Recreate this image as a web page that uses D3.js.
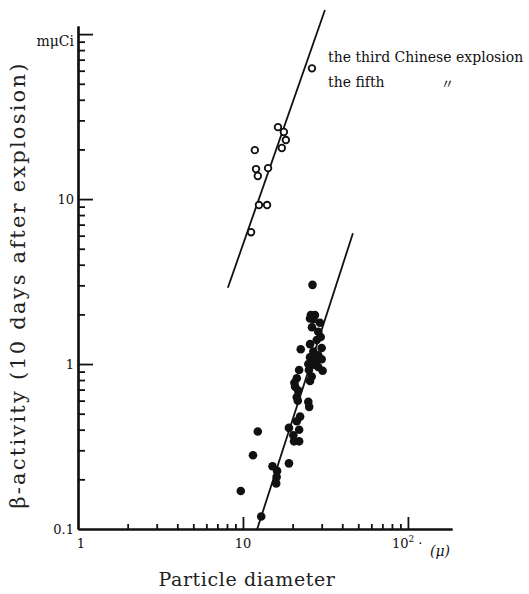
<!DOCTYPE html>
<html>
<head>
<meta charset="utf-8">
<script src="https://cdn.jsdelivr.net/npm/d3@7/dist/d3.min.js"></script>
<style>
  body { margin: 0; background: #fff; }
  svg text { font-family: "DejaVu Serif", "Liberation Serif", serif; fill: #111; }
</style>
</head>
<body>
<div id="chart"></div>
<script>
// third Chinese explosion (open circles)
const thirdX = [26.2, 16.3, 17.7, 18.2, 17.2, 11.8, 12.0, 12.3, 14.2, 12.5, 14.0, 11.2];
const thirdY = [62, 27.3, 25.5, 22.8, 20.4, 19.8, 15.2, 13.8, 15.4, 9.2, 9.2, 6.3];
// fifth explosion (filled dots)
const fifthX = [26.4, 25.8, 27.3, 25.5, 26.7, 29.3, 26.2, 28.6, 29.6, 28.0, 25.5, 22.4, 30.0, 26.7, 28.6,
  25.5, 30.0, 27.7, 24.9, 26.7, 28.6, 21.9, 25.1, 30.4, 21.2, 26.1, 20.5, 25.5, 20.7, 21.6,
  21.2, 21.5, 24.9, 25.2, 22.2, 21.2, 19.0, 21.9, 20.2, 21.9, 20.4, 12.3, 11.5, 19.0, 15.1,
  16.1, 16.0, 15.9, 9.7, 12.9];
const fifthY = [3.02, 1.98, 1.98, 1.89, 1.87, 1.78, 1.67, 1.57, 1.46, 1.40, 1.32, 1.23, 1.25, 1.19, 1.13,
  1.10, 1.07, 1.05, 1.00, 0.99, 0.96, 0.92, 0.92, 0.91, 0.82, 0.84, 0.77, 0.79, 0.73, 0.69,
  0.63, 0.60, 0.59, 0.55, 0.48, 0.45, 0.41, 0.40, 0.37, 0.34, 0.34, 0.39, 0.28, 0.25, 0.24,
  0.225, 0.207, 0.189, 0.170, 0.119];
// fitted lines, [start, end]
const thirdLineX = [8.1, 31.4];
const thirdLineY = [2.9, 140];
const fifthLineX = [12.2, 46.4];
const fifthLineY = [0.1, 6.2];

const xMajor = [10, 100];
const xMinor = [2, 3, 4, 5, 6, 7, 8, 9, 20, 30, 40, 50, 60, 70, 80, 90];
const yMajor = [1, 10, 100];
const yMinor = [0.2, 0.3, 0.4, 0.5, 0.6, 0.7, 0.8, 0.9, 2, 3, 4, 5, 6, 7, 8, 9,
  20, 30, 40, 50, 60, 70, 80, 90];
const yLabels = [[0.1, "0.1"], [1, "1"], [10, "10"], [100, "mμCi"]];
const xLabels = [[1, "1"], [10, "10"]];

const width = 529, height = 594;
const svg = d3.select("#chart").append("svg")
  .attr("width", width).attr("height", height);

const x = d3.scaleLog().domain([1, 185]).range([78, 452]);
const y = d3.scaleLog().domain([0.1, 112]).range([529, 26]);

const styleAxis = g => {
  g.select(".domain").attr("stroke", "#111").attr("stroke-width", 2.2);
  g.selectAll(".tick line").attr("stroke", "#111").attr("stroke-width", 1.8);
};

// x axis
svg.append("g").attr("transform", `translate(0,${y(0.1)})`)
  .call(d3.axisBottom(x).tickValues(xMinor).tickSize(-5).tickSizeOuter(0).tickFormat(""))
  .call(styleAxis);
svg.append("g").attr("transform", `translate(0,${y(0.1)})`)
  .call(d3.axisBottom(x).tickValues(xMajor).tickSize(-12).tickSizeOuter(0).tickFormat(""))
  .call(styleAxis);

// y axis
svg.append("g").attr("transform", `translate(${x(1)},0)`)
  .call(d3.axisLeft(y).tickValues(yMinor).tickSize(-7).tickSizeOuter(0).tickFormat(""))
  .call(styleAxis);
svg.append("g").attr("transform", `translate(${x(1)},0)`)
  .call(d3.axisLeft(y).tickValues(yMajor).tickSize(-15).tickSizeOuter(0).tickFormat(""))
  .call(styleAxis);

// tick labels
svg.selectAll(".ylab").data(yLabels).enter().append("text")
  .attr("x", x(1) - 4)
  .attr("y", d => y(d[0]) + (d[0] === 100 ? 12 : 5))
  .attr("text-anchor", "end")
  .style("font-size", d => d[0] === 100 ? "14px" : "13px")
  .text(d => d[1]);

svg.selectAll(".xlab").data(xLabels).enter().append("text")
  .attr("x", d => x(d[0]) + (d[0] === 1 ? 3 : 0))
  .attr("y", y(0.1) + 19)
  .attr("text-anchor", "middle")
  .style("font-size", "13px")
  .text(d => d[1]);

const hundred = svg.append("text")
  .attr("x", x(100) - 16)
  .attr("y", y(0.1) + 19)
  .style("font-size", "13px");
hundred.append("tspan").text("10");
hundred.append("tspan").attr("dy", -6).style("font-size", "9px").text("2");
hundred.append("tspan").attr("dy", 6).text(" ·");

svg.append("text")
  .attr("x", x(100) + 22)
  .attr("y", y(0.1) + 27)
  .style("font-size", "14px")
  .style("font-style", "italic")
  .text("(μ)");

// axis titles
svg.append("text")
  .attr("transform", `translate(25,285) rotate(-90)`)
  .attr("text-anchor", "middle")
  .style("font-size", "21px")
  .style("letter-spacing", "2.2px")
  .style("fill", "#222")
  .text("β-activity (10 days after explosion)");

svg.append("text")
  .attr("x", 247)
  .attr("y", 586)
  .attr("text-anchor", "middle")
  .style("font-size", "19px")
  .style("letter-spacing", "0.6px")
  .style("fill", "#222")
  .text("Particle diameter");

// fitted lines
const line = d3.line().x(d => x(d[0])).y(d => y(d[1]));
[[thirdLineX, thirdLineY], [fifthLineX, fifthLineY]].forEach(([lx, ly]) => {
  svg.append("path")
    .attr("d", line(d3.zip(lx, ly)))
    .attr("fill", "none")
    .attr("stroke", "#111")
    .attr("stroke-width", 1.8);
});

// points
svg.selectAll(".third").data(d3.zip(thirdX, thirdY)).enter().append("circle")
  .attr("cx", d => x(d[0])).attr("cy", d => y(d[1]))
  .attr("r", 3.3)
  .attr("fill", "#fff").attr("stroke", "#111").attr("stroke-width", 1.8);

svg.selectAll(".fifth").data(d3.zip(fifthX, fifthY)).enter().append("circle")
  .attr("cx", d => x(d[0])).attr("cy", d => y(d[1]))
  .attr("r", 4.3)
  .attr("fill", "#111");

// legend
svg.append("text").attr("x", 328).attr("y", 62)
  .style("font-size", "14px")
  .text("the third Chinese explosion");
svg.append("text").attr("x", 328).attr("y", 87)
  .style("font-size", "14px")
  .text("the fifth");
svg.append("text").attr("x", 441).attr("y", 88)
  .style("font-family", "'Noto Sans CJK JP', sans-serif")
  .style("font-size", "13px")
  .text("〃");
</script>
</body>
</html>
